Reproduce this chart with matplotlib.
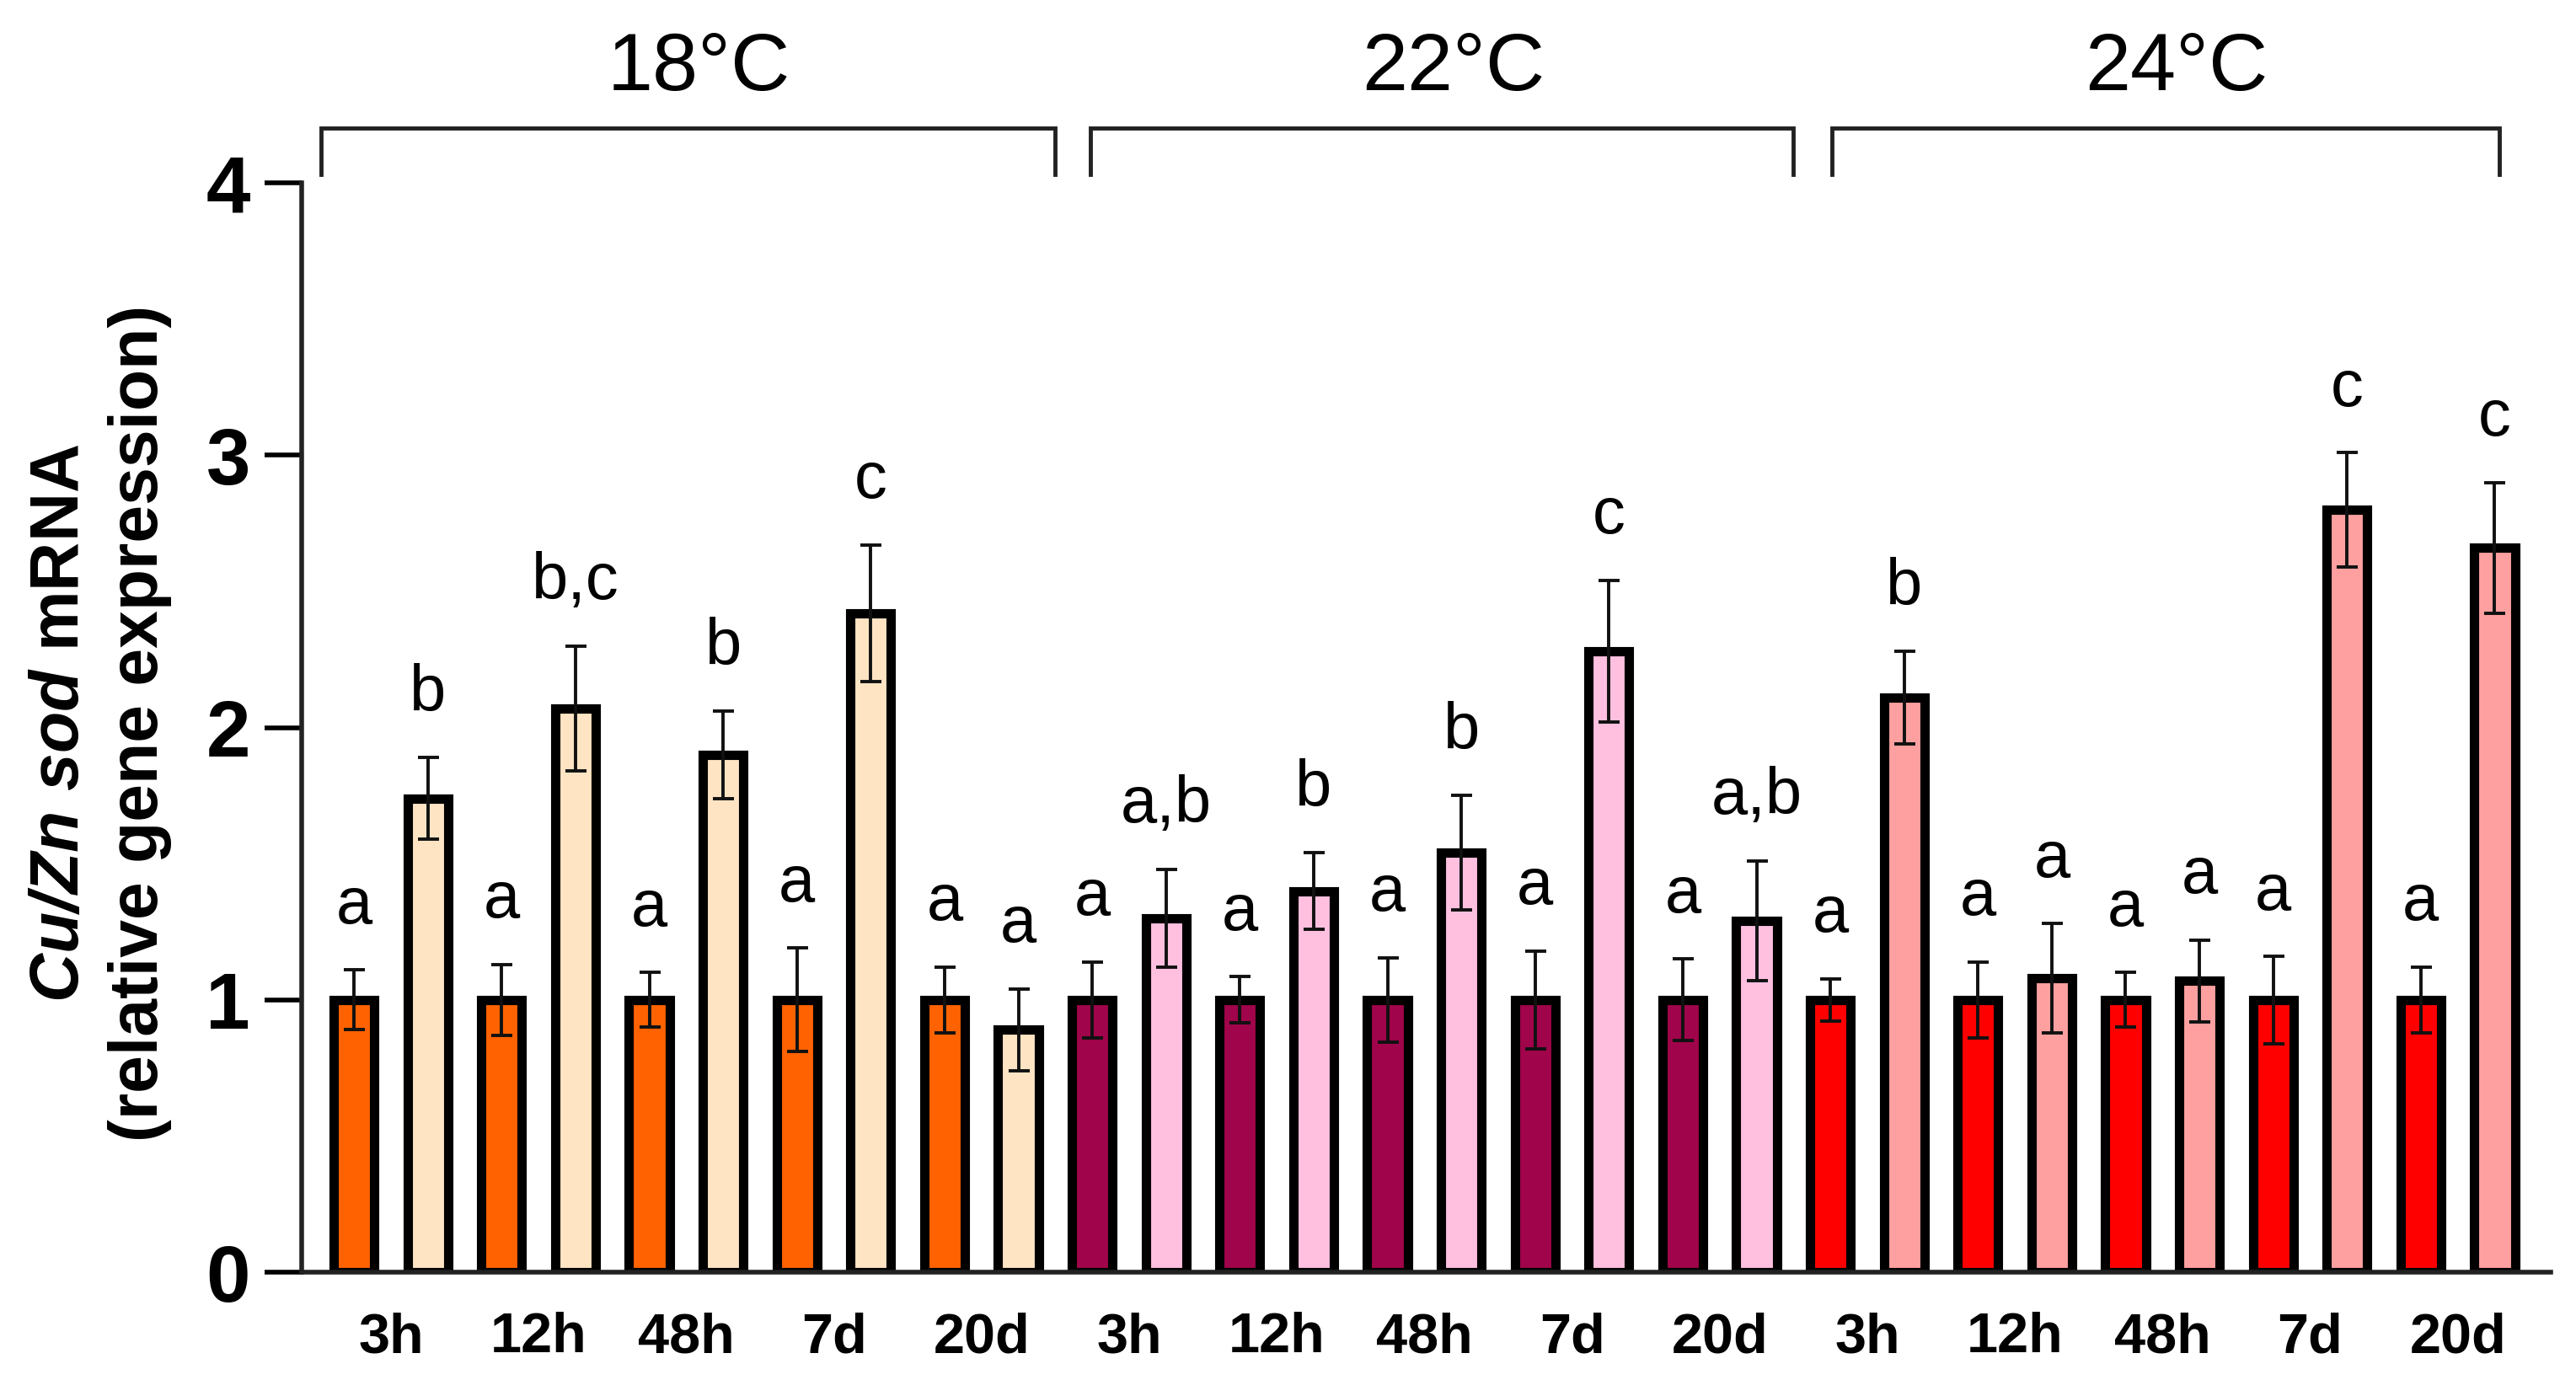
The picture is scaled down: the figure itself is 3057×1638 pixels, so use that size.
import numpy as np
import matplotlib
matplotlib.use("Agg")
import matplotlib.pyplot as plt

plt.rcParams['font.family'] = ['Liberation Sans', 'DejaVu Sans']
plt.rcParams['mathtext.fontset'] = 'custom'
plt.rcParams['mathtext.rm'] = 'Liberation Sans:bold'
plt.rcParams['mathtext.bf'] = 'Liberation Sans:bold'
plt.rcParams['mathtext.it'] = 'Liberation Sans:italic:bold'
plt.rcParams['mathtext.bfit'] = 'Liberation Sans:italic:bold'

# data
temps = ['18°C', '22°C', '24°C']
times = ['3h', '12h', '48h', '7d', '20d']

ctrl_mean = [[1, 1, 1, 1, 1], [1, 1, 1, 1, 1], [1, 1, 1, 1, 1]]
ctrl_err = [[0.11, 0.13, 0.10, 0.19, 0.12],
            [0.14, 0.085, 0.155, 0.18, 0.15],
            [0.077, 0.14, 0.10, 0.16, 0.12]]
trt_mean = [[1.74, 2.07, 1.90, 2.42, 0.89],
            [1.30, 1.40, 1.54, 2.28, 1.29],
            [2.11, 1.08, 1.07, 2.80, 2.66]]
trt_err = [[0.15, 0.23, 0.16, 0.25, 0.15],
           [0.18, 0.14, 0.21, 0.26, 0.22],
           [0.17, 0.20, 0.15, 0.21, 0.24]]
ctrl_letters = [['a'] * 5, ['a'] * 5, ['a'] * 5]
trt_letters = [['b', 'b,c', 'b', 'c', 'a'],
               ['a,b', 'b', 'b', 'c', 'a,b'],
               ['b', 'a', 'a', 'c', 'c']]

ctrl_colors = ['#FF6200', '#A0044A', '#FF0000']
trt_colors = ['#FFE4C4', '#FFC0E0', '#FFA0A0']

fig = plt.figure(figsize=(30.57, 16.38), dpi=100)
ax = fig.add_axes([0.1171, 0.0781, 0.9902 - 0.1171, 0.8675 - 0.0781])

width = 0.55
tick_pos = []
tick_lab = []
for g in range(3):
    for t in range(5):
        xc = g * 10 + t * 2
        xt = xc + 1
        for x, m, e, col, let in [(xc, ctrl_mean[g][t], ctrl_err[g][t], ctrl_colors[g], ctrl_letters[g][t]),
                                  (xt, trt_mean[g][t], trt_err[g][t], trt_colors[g], trt_letters[g][t])]:
            ax.bar(x, m, width=width, color=col, edgecolor='black', linewidth=8, zorder=2)
            ax.errorbar(x, m, yerr=e, fmt='none', ecolor='#111111', elinewidth=2.8,
                        capsize=9, capthick=2.8, zorder=3)
            ax.annotate(let, (x, m + e), xytext=(0, 40), textcoords='offset points',
                        ha='center', va='baseline', fontsize=56)
        tick_pos.append(xc + 0.5)
        tick_lab.append(times[t])

ax.set_xlim(-0.71, 29.76)
ax.set_ylim(0, 4)
ax.set_yticks([0, 1, 2, 3, 4])
ax.set_yticklabels(['0', '1', '2', '3', '4'], fontsize=68, fontweight='bold')
ax.tick_params(axis='y', length=32, width=4, pad=12)
ax.set_xticks(tick_pos)
ax.set_xticklabels(tick_lab, fontsize=48, fontweight='bold')
ax.tick_params(axis='x', length=0, pad=34)
for s in ['top', 'right']:
    ax.spines[s].set_visible(False)
for s in ['left', 'bottom']:
    ax.spines[s].set_linewidth(4)
    ax.spines[s].set_color('#222222')

# temperature brackets
brackets = [(-0.45, 9.5), (9.98, 19.5), (20.02, 29.06)]
for (x0, x1), lab in zip(brackets, temps):
    ax.plot([x0, x0, x1, x1], [4.03, 4.20, 4.20, 4.03], color='#222222', lw=3.5,
            clip_on=False, solid_joinstyle='miter')
    ax.text((x0 + x1) / 2 + 0.15, 4.34, lab, ha='center', va='baseline', fontsize=70)

fig.text(0.039, 0.476, '$\\mathbfit{Cu/Zn\\ sod}$ mRNA\n(relative gene expression)',
         rotation=90, ha='center', va='center', fontsize=58, fontweight='bold',
         multialignment='center', linespacing=1.3)

fig.savefig('out.png', dpi=100)
